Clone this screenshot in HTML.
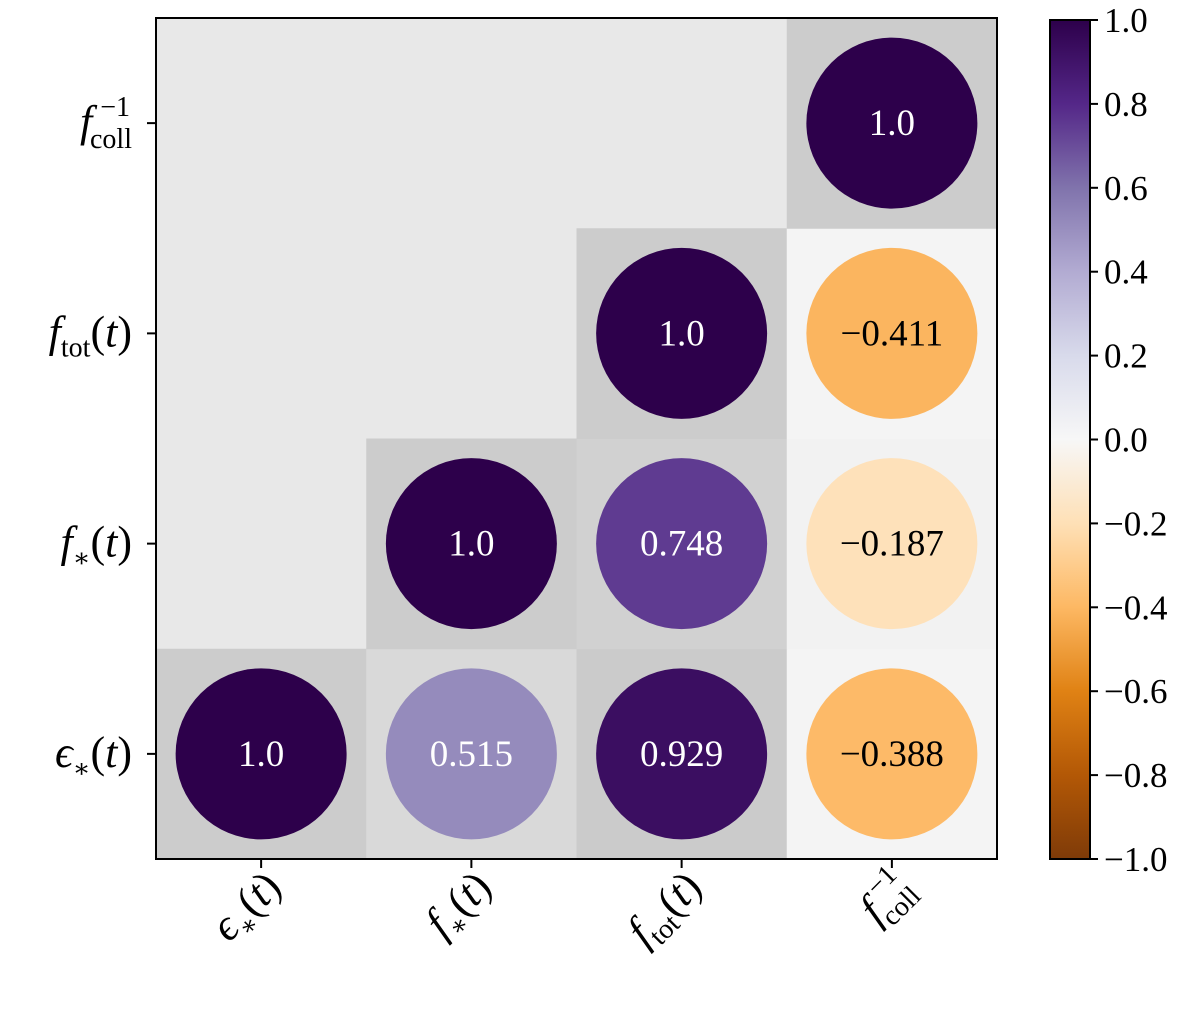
<!DOCTYPE html>
<html><head><meta charset="utf-8"><style>
html,body{margin:0;padding:0;background:#fff;}
svg text{font-family:"Liberation Serif","DejaVu Serif",serif;}
</style></head><body>
<svg id="chart" width="1200" height="1013" viewBox="0 0 1200 1013" xmlns="http://www.w3.org/2000/svg">
<g id="cells"></g>
<rect x="156" y="18" width="841" height="841" fill="none" stroke="#000" stroke-width="2"/>
<g id="axes"></g>
<g id="cbar"></g>
</svg>
<script>
const labels = ["eps","fstar","ftot","fcoll"];
const corrValues = [
  [0,0,1.0],[1,0,0.515],[2,0,0.929],[3,0,-0.388],
  [1,1,1.0],[2,1,0.748],[3,1,-0.187],
  [2,2,1.0],[3,2,-0.411],
  [3,3,1.0]
];
const valueText = ["1.0","0.515","0.929","\u22120.388","1.0","0.748","\u22120.187","1.0","\u22120.411","1.0"];
const cbTicks = [1.0,0.8,0.6,0.4,0.2,0.0,-0.2,-0.4,-0.6,-0.8,-1.0];

const NS="http://www.w3.org/2000/svg";
const X0=156,Y0=18,W=841,N=4,C=W/N;
const xPos=i=>X0+C*i;
const yPos=j=>Y0+C*(N-1-j);
const cbY=v=>20+(1-v)/2*839;
const stops=["#7f3b08","#b35806","#e08214","#fdb863","#fee0b6","#f7f7f7","#d8daeb","#b2abd2","#8073ac","#542788","#2d004b"];
function hex(h){return [1,3,5].map(k=>parseInt(h.substr(k,2),16));}
function cmap(v){let t=(v+1)/2*10;let i=Math.min(9,Math.floor(t));let f=t-i;
 const a=hex(stops[i]),b=hex(stops[i+1]);return "rgb("+a.map((x,k)=>Math.round(x+(b[k]-x)*f)).join(",")+")";}
function bgGray(v,diag){if(diag)return "#cccccc";
 if(v>=0){const g=Math.round(236-v*36);return `rgb(${g},${g},${g})`;}
 const g=Math.round(240+Math.min(0.4,-v)*10);return `rgb(${g},${g},${g})`;}
function el(tag,attrs,parent){const e=document.createElementNS(NS,tag);for(const k in attrs)e.setAttribute(k,attrs[k]);parent.appendChild(e);return e;}

const cells=document.getElementById("cells");
const bg=el("rect",{x:X0,y:Y0,width:W,height:W,fill:"#e8e8e8"},cells);


corrValues.forEach((d,k)=>{
 const [i,j,v]=d;const x=xPos(i),y=yPos(j);
 const r=el("rect",{x:x,y:y,width:C+0.5,height:C+0.5,fill:bgGray(v,i===j)},cells);
 
 
 const c=el("circle",{cx:x+C/2,cy:y+C/2,r:85.5,fill:cmap(v)},cells);
 
 
 const t=el("text",{x:x+C/2,y:y+C/2+12,"text-anchor":"middle","font-size":"37",fill:v>0.5?"#fff":"#000"},cells);
 t.textContent=valueText[k];
 
 
});

const axes=document.getElementById("axes");
const yLabHTML=[
 '<tspan font-style="italic">ϵ</tspan><tspan font-size="26" dy="10">∗</tspan><tspan dy="-10">(</tspan><tspan font-style="italic">t</tspan>)',
 '<tspan font-style="italic">f</tspan><tspan font-size="26" dy="10">∗</tspan><tspan dy="-10">(</tspan><tspan font-style="italic">t</tspan>)',
 '<tspan font-style="italic">f</tspan><tspan font-size="28" dy="10">tot</tspan><tspan dy="-10">(</tspan><tspan font-style="italic">t</tspan>)',
 '<tspan font-style="italic">f</tspan><tspan font-size="28" dy="-20" dx="8">−1</tspan><tspan font-size="28" dy="32" dx="-40">coll</tspan>'
];
for(let j=0;j<N;j++){
 const yc=yPos(j)+C/2;
 el("line",{x1:X0,x2:X0-9,y1:yc,y2:yc,stroke:"#000","stroke-width":2},axes);
 const t=el("text",{x:132,y:yc+13,"text-anchor":"end","font-size":"44"},axes);
 t.innerHTML=yLabHTML[j];
 
 
 const xc=xPos(j)+C/2;
 el("line",{x1:xc,x2:xc,y1:Y0+W,y2:Y0+W+9,stroke:"#000","stroke-width":2},axes);
 const tx=el("text",{x:0,y:0,"text-anchor":"end","font-size":"44",transform:`translate(${xc+22},${Y0+W+30}) rotate(-45)`},axes);
 tx.innerHTML=yLabHTML[j];
 
 
}

const cb=document.getElementById("cbar");
const defs=el("defs",{},cb);
const grad=el("linearGradient",{id:"g",x1:0,y1:1,x2:0,y2:0},defs);
stops.forEach((s,i)=>el("stop",{offset:i/10,"stop-color":s},grad));
const cr=el("rect",{x:1050,y:cbY(1),width:40,height:cbY(-1)-cbY(1),fill:"url(#g)",stroke:"#000","stroke-width":2},cb);


cbTicks.forEach(v=>{
 const y=cbY(v);
 el("line",{x1:1090,x2:1098,y1:y,y2:y,stroke:"#000","stroke-width":2},cb);
 const t=el("text",{x:1104,y:y+12,"font-size":"35"},cb);
 t.textContent=(v<0?"\u2212":"")+Math.abs(v).toFixed(1);
 
 
});
</script>
</body></html>
